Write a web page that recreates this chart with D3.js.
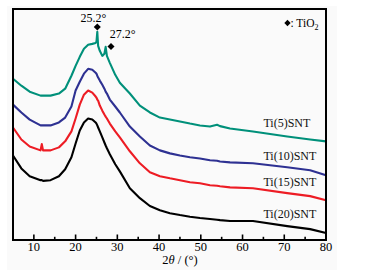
<!DOCTYPE html>
<html>
<head>
<meta charset="utf-8">
<script src="https://cdn.jsdelivr.net/npm/d3@7"></script>
<style>
    html, body { margin: 0; padding: 0; background: #fff; }
    svg { display: block; font-family: "Liberation Serif", "DejaVu Serif", serif; }
</style>
</head>
<body>
<svg id="chart" width="368" height="275"></svg>
<script>
// 2theta positions (degrees) shared by all patterns
const twoTheta = [5, 7, 9, 11.6, 11.9, 12.2, 14, 16, 17.5, 19, 20, 21, 22, 23, 24, 24.8, 25, 25.2, 25.4, 25.8,
    26.4, 26.9, 27.2, 27.5, 28.2, 29.5, 30.6, 33, 35.4, 37.8, 40.2, 42.6, 45, 47.4, 49.8, 52.2, 53.9, 54.6,
    57, 62.5, 70.7, 76.2, 80];

// intensities (a.u., stacked as drawn)
const ti5 = [698, 668, 642, 625, 625, 625, 625, 634, 655, 711, 754, 793, 828, 845, 849, 853, 858, 901, 840, 819,
    797, 806, 836, 797, 767, 715, 681, 634, 582, 552, 530, 522, 513, 504, 496, 491, 499, 493,
    483, 470, 448, 435, 427];
const ti10 = [586, 552, 521, 496, 496, 496, 496, 509, 530, 578, 647, 685, 720, 741, 737, 724, 720, 711, 703, 690,
    672, 655, 642, 634, 608, 578, 552, 491, 448, 409, 388, 375, 366, 358, 353, 345, 343, 340,
    336, 332, 315, 302, 280];
const ti15 = [487, 435, 405, 388, 415, 388, 388, 401, 427, 470, 526, 586, 629, 647, 638, 621, 616, 608, 603, 582,
    560, 543, 534, 526, 504, 470, 444, 384, 332, 293, 276, 267, 259, 250, 246, 237, 235, 233,
    228, 224, 203, 190, 172];
const ti20 = [366, 310, 276, 259, 259, 256, 259, 276, 306, 358, 418, 474, 509, 526, 522, 509, 504, 496, 487, 470,
    444, 422, 409, 397, 371, 328, 297, 224, 181, 147, 129, 116, 108, 101, 95, 91, 88, 86,
    82, 82, 60, 47, 30];

const seriesNames = ['Ti(5)SNT', 'Ti(10)SNT', 'Ti(15)SNT', 'Ti(20)SNT'];
const seriesValues = [ti5, ti10, ti15, ti20];
const seriesColors = ['#00907a', '#2e3192', '#ed1c24', '#000000'];

const xTicks = [10, 20, 30, 40, 50, 60, 70, 80];
const xMinorTicks = [15, 25, 35, 45, 55, 65, 75];

const peakAngles = [25.2, 27.2];
const peakLabels = ['25.2°', '27.2°'];

const svg = d3.select('#chart');
const margin = { left: 13, top: 9, right: 42, bottom: 35 };
const width = 368, height = 275;

// faint page tone behind the plot, as in the scan
svg.append('rect')
    .attr('x', 7).attr('y', 6)
    .attr('width', 330).attr('height', 264)
    .attr('fill', '#fafafa');

const x = d3.scaleLinear()
    .domain([5, 80])
    .range([margin.left, width - margin.right]);

const y = d3.scaleLinear()
    .domain([0, 1000])
    .range([height - margin.bottom, margin.top]);

const plotBottom = y(0);

const line = d3.line()
    .x((d, i) => x(twoTheta[i]))
    .y(d => y(d));

const g = svg.append('g');

g.selectAll('path.series')
    .data(seriesValues)
    .enter()
    .append('path')
    .attr('class', 'series')
    .attr('d', d => line(d))
    .attr('fill', 'none')
    .attr('stroke', (d, i) => seriesColors[i])
    .attr('stroke-width', 2.1)
    .attr('stroke-linejoin', 'round');

// series labels
const labelY = [127, 160, 185.5, 218];
g.selectAll('text.name')
    .data(seriesNames)
    .enter()
    .append('text')
    .attr('class', 'name')
    .attr('x', x(65))
    .attr('y', (d, i) => labelY[i])
    .attr('font-size', '12px')
    .attr('fill', '#111')
    .text(d => d);

// peak markers
const diamond = d3.symbol().type(d3.symbolSquare).size(25);
const markerPos = [[x(peakAngles[0]), 27], [111, 46.5]];
g.selectAll('path.peak')
    .data(markerPos)
    .enter()
    .append('path')
    .attr('class', 'peak')
    .attr('d', diamond)
    .attr('transform', d => `translate(${d[0]},${d[1]}) rotate(45)`)
    .attr('fill', '#000');

const peakTextPos = [[x(peakAngles[0]) - 4, 22], [x(peakAngles[1]) + 17, 37.5]];
g.selectAll('text.peak')
    .data(peakLabels)
    .enter()
    .append('text')
    .attr('class', 'peak')
    .attr('x', (d, i) => peakTextPos[i][0])
    .attr('y', (d, i) => peakTextPos[i][1])
    .attr('text-anchor', 'middle')
    .attr('font-size', '12px')
    .text(d => d);

// legend: ◆: TiO2
g.append('path')
    .attr('d', d3.symbol().type(d3.symbolSquare).size(20))
    .attr('transform', 'translate(287.5,23) rotate(45)')
    .attr('fill', '#000');
const leg = g.append('text')
    .attr('x', 290.5)
    .attr('y', 26.5)
    .attr('font-size', '11.5px');
leg.append('tspan').text(': TiO');
leg.append('tspan').attr('font-size', '8px').attr('dy', 3).text('2');

// frame
svg.append('rect')
    .attr('x', margin.left)
    .attr('y', margin.top)
    .attr('width', x(80) - margin.left)
    .attr('height', plotBottom - margin.top)
    .attr('fill', 'none')
    .attr('stroke', '#000')
    .attr('stroke-width', 2);

// bottom axis, ticks pointing inward
const axis = svg.append('g')
    .attr('transform', `translate(0,${plotBottom})`);

axis.selectAll('line.major')
    .data(xTicks)
    .enter()
    .append('line')
    .attr('x1', d => x(d)).attr('x2', d => x(d))
    .attr('y1', 0).attr('y2', -5.5)
    .attr('stroke', '#000')
    .attr('stroke-width', 1.6);

axis.selectAll('line.minor')
    .data(xMinorTicks)
    .enter()
    .append('line')
    .attr('x1', d => x(d)).attr('x2', d => x(d))
    .attr('y1', 0).attr('y2', -3.2)
    .attr('stroke', '#000')
    .attr('stroke-width', 1.6);

axis.selectAll('text')
    .data(xTicks)
    .enter()
    .append('text')
    .attr('x', d => x(d))
    .attr('y', 11)
    .attr('text-anchor', 'middle')
    .attr('font-size', '12.5px')
    .text(d => d);

const title = svg.append('text')
    .attr('x', 180)
    .attr('y', 264)
    .attr('text-anchor', 'middle')
    .attr('font-size', '12.5px');
title.append('tspan').text('2');
title.append('tspan').attr('font-style', 'italic').text('θ');
title.append('tspan').text(' / (°)');
</script>
</body>
</html>
